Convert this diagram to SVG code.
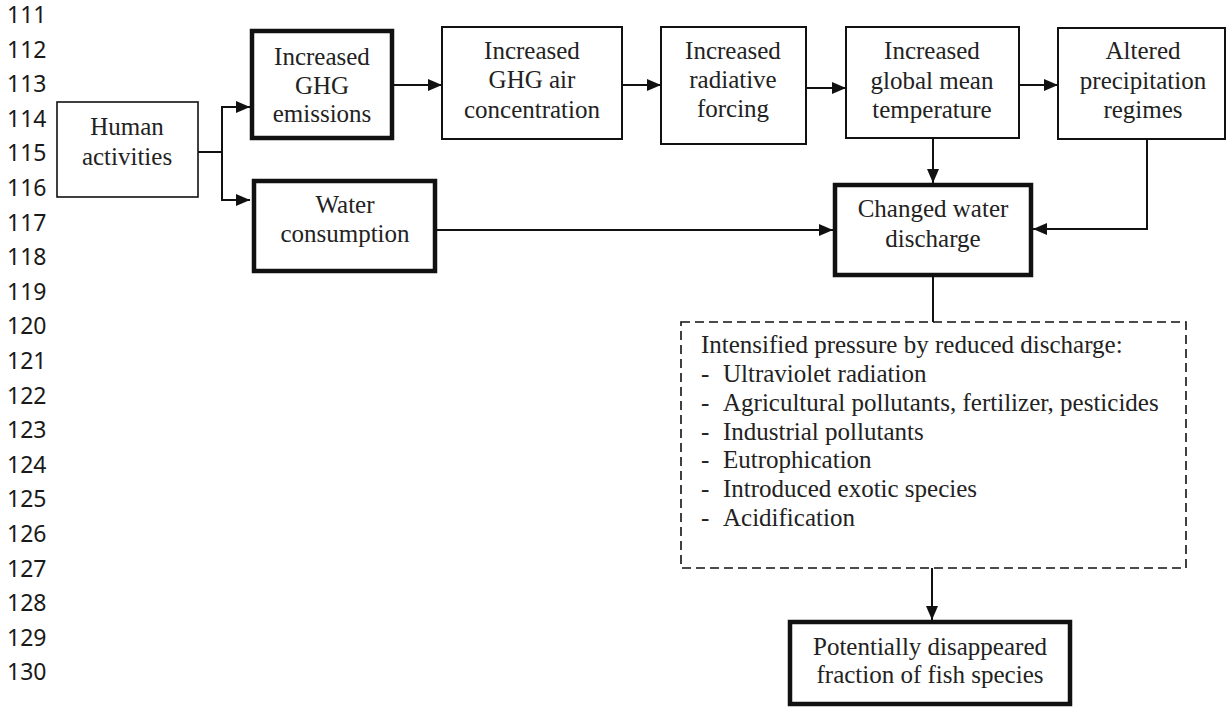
<svg xmlns="http://www.w3.org/2000/svg" width="1228" height="707" viewBox="0 0 1228 707">
<style>
.ln{font-family:"Noto Sans","Liberation Sans",sans-serif;font-size:23px;fill:#1a1a1a}
.t{font-family:"Liberation Serif","Times New Roman",serif;font-size:25px;fill:#222;text-anchor:middle}
.tl{font-family:"Liberation Serif","Times New Roman",serif;font-size:25px;fill:#222}
.thin{fill:#fff;stroke:#111;stroke-width:2}
.thick{fill:#fff;stroke:#111;stroke-width:4.5}
.dash{fill:#fff;stroke:#111;stroke-width:1.6;stroke-dasharray:9 5}
.c{fill:none;stroke:#111;stroke-width:2}
</style>
<defs>
<marker id="ah" viewBox="0 0 14 12" refX="14" refY="6" markerWidth="14" markerHeight="12" markerUnits="userSpaceOnUse" orient="auto">
<path d="M0,0 L14,6 L0,12 z" fill="#111"/>
</marker>
</defs>
<rect width="1228" height="707" fill="#fff"/>
<g id="line-numbers">
<text class="ln" x="7" y="23">111</text>
<text class="ln" x="7" y="57.6">112</text>
<text class="ln" x="7" y="92.2">113</text>
<text class="ln" x="7" y="126.8">114</text>
<text class="ln" x="7" y="161.4">115</text>
<text class="ln" x="7" y="196">116</text>
<text class="ln" x="7" y="230.6">117</text>
<text class="ln" x="7" y="265.2">118</text>
<text class="ln" x="7" y="299.8">119</text>
<text class="ln" x="7" y="334.4">120</text>
<text class="ln" x="7" y="369">121</text>
<text class="ln" x="7" y="403.6">122</text>
<text class="ln" x="7" y="438.2">123</text>
<text class="ln" x="7" y="472.8">124</text>
<text class="ln" x="7" y="507.4">125</text>
<text class="ln" x="7" y="542">126</text>
<text class="ln" x="7" y="576.6">127</text>
<text class="ln" x="7" y="611.2">128</text>
<text class="ln" x="7" y="645.8">129</text>
<text class="ln" x="7" y="680.4">130</text>
</g>
<g id="connectors">
<path class="c" d="M198,152 H222 M222,107 V200"/>
<path class="c" d="M221,107 H250" marker-end="url(#ah)"/>
<path class="c" d="M221,200 H250" marker-end="url(#ah)"/>
<path class="c" d="M394,85 H442" marker-end="url(#ah)"/>
<path class="c" d="M622,85 H661" marker-end="url(#ah)"/>
<path class="c" d="M806,88 H846" marker-end="url(#ah)"/>
<path class="c" d="M1019,85 H1058" marker-end="url(#ah)"/>
<path class="c" d="M933,138 V183" marker-end="url(#ah)"/>
<path class="c" d="M1147,139 V229 H1033" marker-end="url(#ah)"/>
<path class="c" d="M437,230 H833" marker-end="url(#ah)"/>
<path class="c" d="M933,277 V322"/>
<path class="c" d="M932,568 V620" marker-end="url(#ah)"/>
</g>
<g id="human">
<rect class="thin" x="57" y="102" width="141" height="95" style="stroke-width:1.6"/>
<text class="t" x="127" y="135">Human</text>
<text class="t" x="127" y="165">activities</text>
</g>
<g id="ghg-emissions">
<rect class="thick" x="252" y="31" width="140" height="107"/>
<text class="t" x="322" y="65">Increased</text>
<text class="t" x="322" y="94">GHG</text>
<text class="t" x="322" y="122">emissions</text>
</g>
<g id="ghg-air">
<rect class="thin" x="442" y="27" width="180" height="112"/>
<text class="t" x="532" y="59">Increased</text>
<text class="t" x="532" y="88">GHG air</text>
<text class="t" x="532" y="118">concentration</text>
</g>
<g id="radiative">
<rect class="thin" x="661" y="27" width="145" height="117"/>
<text class="t" x="733" y="59">Increased</text>
<text class="t" x="733" y="88">radiative</text>
<text class="t" x="733" y="117">forcing</text>
</g>
<g id="temperature">
<rect class="thin" x="846" y="27" width="173" height="111"/>
<text class="t" x="932" y="59">Increased</text>
<text class="t" x="932" y="89">global mean</text>
<text class="t" x="932" y="118">temperature</text>
</g>
<g id="precipitation">
<rect class="thin" x="1058" y="28" width="167" height="111"/>
<text class="t" x="1143" y="59">Altered</text>
<text class="t" x="1143" y="89">precipitation</text>
<text class="t" x="1143" y="118">regimes</text>
</g>
<g id="water-consumption">
<rect class="thick" x="254" y="181" width="181" height="90"/>
<text class="t" x="345" y="213">Water</text>
<text class="t" x="345" y="242">consumption</text>
</g>
<g id="changed-discharge">
<rect class="thick" x="835" y="185" width="196" height="90"/>
<text class="t" x="933" y="217">Changed water</text>
<text class="t" x="933" y="247">discharge</text>
</g>
<g id="pressures">
<rect class="dash" x="681" y="322" width="505" height="246"/>
<text class="tl" x="701" y="353">Intensified pressure by reduced discharge:</text>
<text class="tl" x="701" y="382">-</text><text class="tl" x="723" y="382">Ultraviolet radiation</text>
<text class="tl" x="701" y="411">-</text><text class="tl" x="723" y="411">Agricultural pollutants, fertilizer, pesticides</text>
<text class="tl" x="701" y="440">-</text><text class="tl" x="723" y="440">Industrial pollutants</text>
<text class="tl" x="701" y="468">-</text><text class="tl" x="723" y="468">Eutrophication</text>
<text class="tl" x="701" y="497">-</text><text class="tl" x="723" y="497">Introduced exotic species</text>
<text class="tl" x="701" y="526">-</text><text class="tl" x="723" y="526">Acidification</text>
</g>
<g id="fish-species">
<rect class="thick" x="790" y="622" width="280" height="82"/>
<text class="t" x="930" y="655">Potentially disappeared</text>
<text class="t" x="930" y="683">fraction of fish species</text>
</g>
</svg>
